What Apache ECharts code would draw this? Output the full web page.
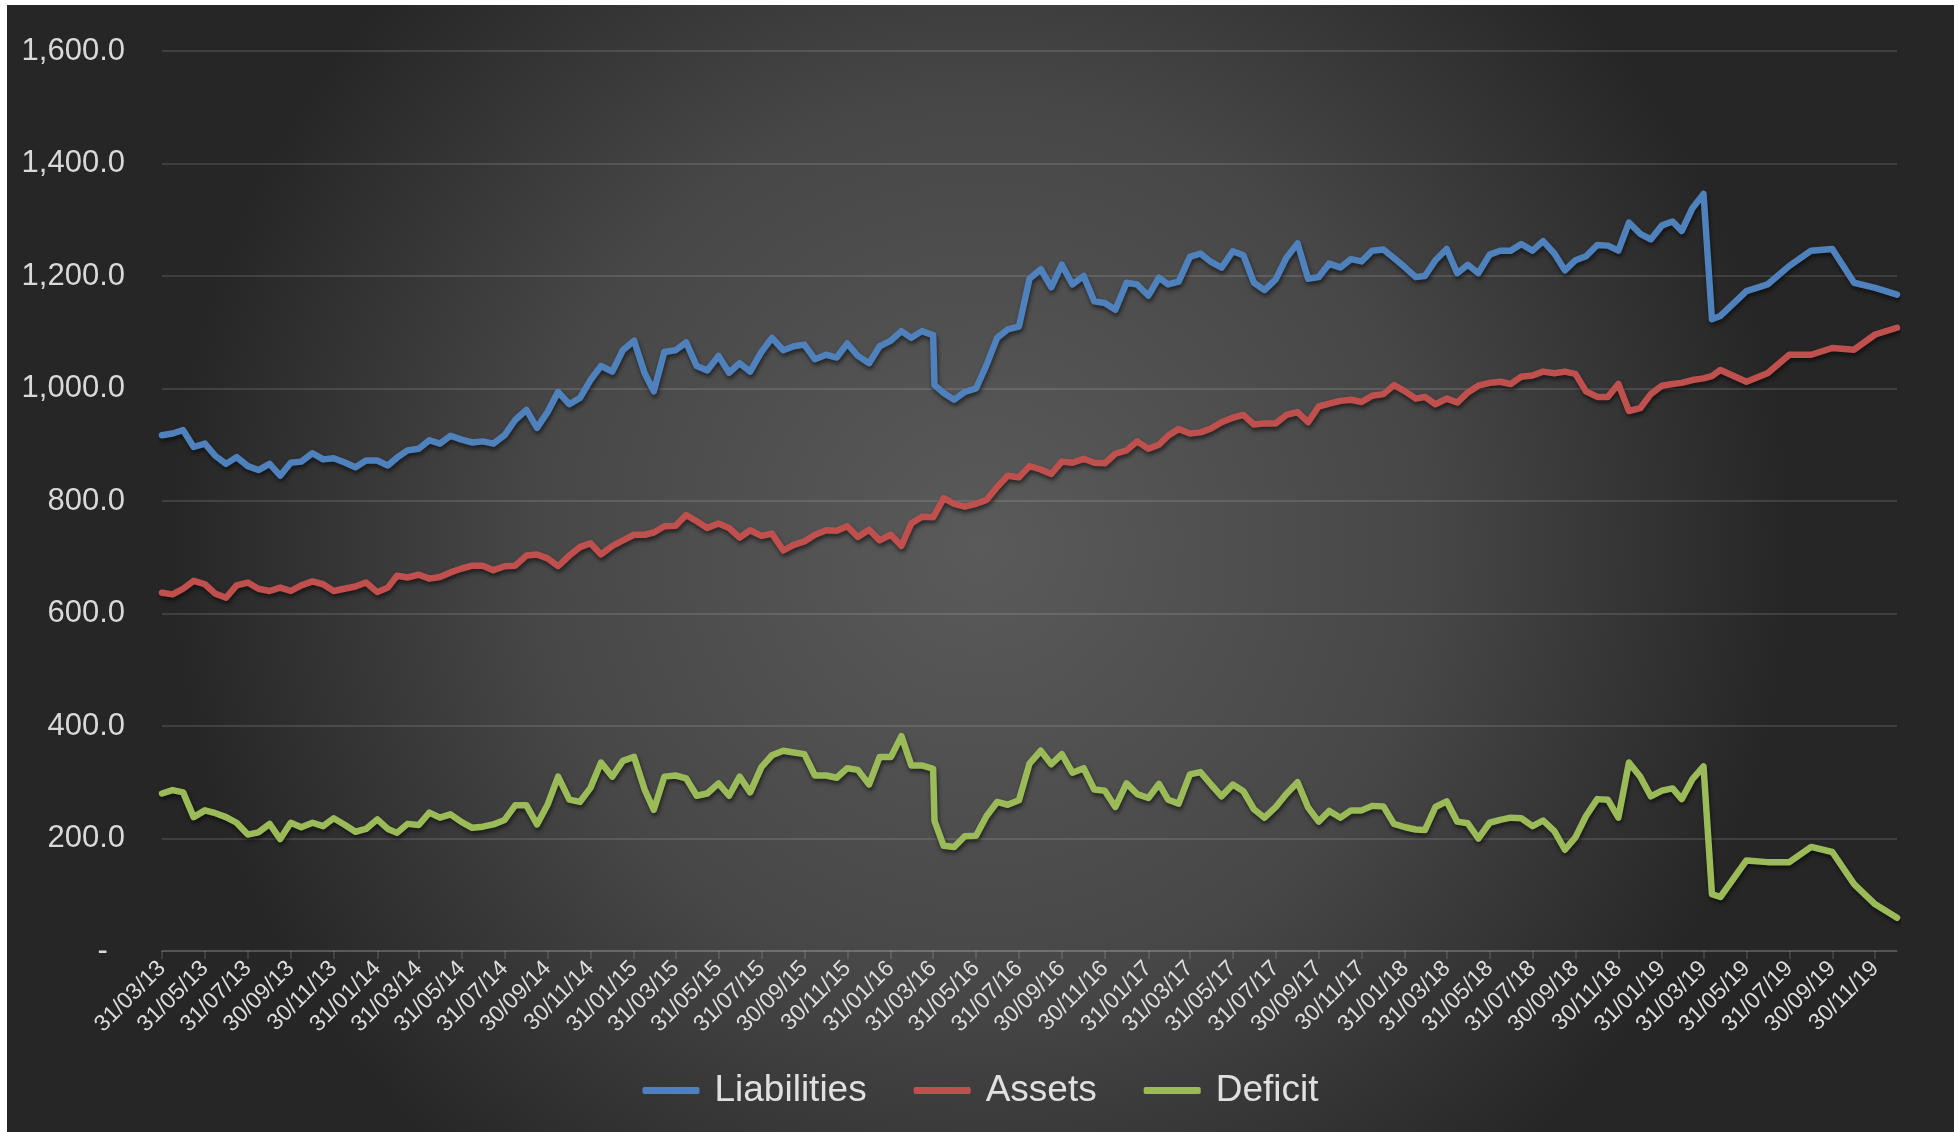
<!DOCTYPE html>
<html><head><meta charset="utf-8">
<script src="https://cdn.jsdelivr.net/npm/echarts@6/dist/echarts.min.js"></script>
<style>
html,body{margin:0;padding:0;background:#ffffff;width:1959px;height:1132px;overflow:hidden}
#chart{position:absolute;left:7px;top:5px;width:1947px;height:1127px}
</style></head><body><div id="chart"></div>
<script>
const dates = [
 '2013-03-31','2013-04-15','2013-04-30','2013-05-15','2013-05-31','2013-06-15','2013-06-30','2013-07-15','2013-07-31','2013-08-15','2013-08-31','2013-09-15','2013-09-30','2013-10-15','2013-10-31','2013-11-15','2013-11-30','2013-12-15','2013-12-31',
 '2014-01-15','2014-01-31','2014-02-15','2014-02-28','2014-03-15','2014-03-31','2014-04-15','2014-04-30','2014-05-15','2014-05-31','2014-06-15','2014-06-30','2014-07-15','2014-07-31','2014-08-15','2014-08-31','2014-09-15','2014-09-30','2014-10-15','2014-10-31','2014-11-15','2014-11-30','2014-12-15','2014-12-31',
 '2015-01-15','2015-01-31','2015-02-15','2015-02-28','2015-03-15','2015-03-31','2015-04-15','2015-04-30','2015-05-15','2015-05-31','2015-06-15','2015-06-30','2015-07-15','2015-07-31','2015-08-15','2015-08-31','2015-09-15','2015-09-30','2015-10-15','2015-10-31','2015-11-15','2015-11-30','2015-12-15','2015-12-31',
 '2016-01-15','2016-01-31','2016-02-15','2016-02-29','2016-03-15','2016-03-31','2016-04-02','2016-04-15','2016-04-30','2016-05-15','2016-05-31','2016-06-15','2016-06-30','2016-07-15','2016-07-31','2016-08-15','2016-08-31','2016-09-15','2016-09-30','2016-10-15','2016-10-31','2016-11-15','2016-11-30','2016-12-15','2016-12-31',
 '2017-01-15','2017-01-31','2017-02-15','2017-02-28','2017-03-15','2017-03-31','2017-04-15','2017-04-30','2017-05-15','2017-05-31','2017-06-15','2017-06-30','2017-07-15','2017-07-31','2017-08-15','2017-08-31','2017-09-15','2017-09-30','2017-10-15','2017-10-31','2017-11-15','2017-11-30','2017-12-15','2017-12-31',
 '2018-01-15','2018-01-31','2018-02-15','2018-02-28','2018-03-15','2018-03-31','2018-04-15','2018-04-30','2018-05-15','2018-05-31','2018-06-15','2018-06-30','2018-07-15','2018-07-31','2018-08-15','2018-08-31','2018-09-15','2018-09-30','2018-10-15','2018-10-31','2018-11-15','2018-11-30','2018-12-15','2018-12-31',
 '2019-01-15','2019-01-31','2019-02-15','2019-02-28','2019-03-15','2019-03-31','2019-04-12','2019-04-24','2019-05-31','2019-06-30','2019-07-31','2019-08-31','2019-09-30','2019-10-31','2019-11-30','2019-12-31'
];
const liabilities = [
 917,920,926,896,902,880,866,878,862,855,866,845,868,870,885,874,876,869,860,
 872,872,863,877,890,893,908,902,916,909,904,906,902,917,944,962,930,958,994,972,983,1015,1040,1030,
 1068,1085,1027,995,1065,1068,1082,1040,1032,1058,1028,1045,1030,1065,1090,1068,1075,1078,1052,1060,1055,1080,1058,1045,
 1075,1085,1102,1090,1102,1095,1006,992,980,994,1000,1042,1090,1105,1110,1195,1212,1180,1220,1185,1200,1155,1152,1140,1188,
 1185,1165,1197,1185,1190,1234,1240,1225,1215,1244,1237,1188,1175,1194,1232,1258,1195,1198,1222,1215,1230,1226,1245,1247,
 1232,1215,1198,1200,1228,1248,1205,1220,1205,1238,1245,1245,1257,1245,1262,1240,1210,1228,1235,1255,1254,1245,1295,1275,
 1265,1290,1297,1280,1320,1346,1123,1129,1173,1185,1218,1245,1248,1188,1179,1167
];
const assets = [
 637,634,644,658,652,635,628,650,655,644,640,646,640,650,657,652,640,644,648,
 655,638,646,667,664,669,662,665,673,680,685,685,677,684,685,703,705,698,684,703,718,725,705,720,
 730,740,740,744,755,756,775,764,752,760,752,735,748,738,742,712,722,728,740,748,747,755,736,749,
 730,740,720,760,772,771,775,805,795,790,795,802,825,845,842,862,856,848,870,868,875,868,867,884,890,
 906,893,900,916,928,920,922,929,940,948,953,936,938,938,953,958,940,968,973,978,980,976,987,990,
 1006,995,982,985,972,982,975,993,1005,1010,1012,1008,1021,1023,1030,1027,1030,1026,995,985,985,1008,960,965,
 990,1005,1008,1010,1015,1018,1022,1033,1012,1027,1060,1060,1072,1069,1096,1108
];
const deficit = [
 280,286,282,238,250,245,238,228,207,211,226,199,228,220,228,222,236,225,212,
 217,234,217,210,226,224,246,237,243,229,219,221,225,233,259,259,225,260,310,269,265,290,335,310,
 338,345,287,251,310,312,307,276,280,298,276,310,282,327,348,356,353,350,312,312,308,325,322,296,
 345,345,382,330,330,324,231,187,185,204,205,240,265,260,268,333,356,332,350,317,325,287,285,256,298,
 279,272,297,269,262,314,318,296,275,296,284,252,237,256,279,300,255,230,249,237,250,250,258,257,
 226,220,216,215,256,266,230,227,200,228,233,237,236,222,232,213,180,202,240,270,269,237,335,310,
 275,285,289,270,305,328,101,96,161,158,158,185,176,119,83,59
];
const tickLabels = [
 '31/03/13','31/05/13','31/07/13','30/09/13','30/11/13',
 '31/01/14','31/03/14','31/05/14','31/07/14','30/09/14','30/11/14',
 '31/01/15','31/03/15','31/05/15','31/07/15','30/09/15','30/11/15',
 '31/01/16','31/03/16','31/05/16','31/07/16','30/09/16','30/11/16',
 '31/01/17','31/03/17','31/05/17','31/07/17','30/09/17','30/11/17',
 '31/01/18','31/03/18','31/05/18','31/07/18','30/09/18','30/11/18',
 '31/01/19','31/03/19','31/05/19','31/07/19','30/09/19','30/11/19'
];
const seriesNames = ['Liabilities','Assets','Deficit'];
const seriesColors = ['#4f81bd','#c0504d','#9bbb59'];

function parseLabel(s){ const p = s.split('/').map(Number); return new Date(2000+p[2], p[1]-1, p[0]).getTime(); }
function parseIso(s){ const p = s.split('-').map(Number); return new Date(p[0], p[1]-1, p[2]).getTime(); }
const tickTs = tickLabels.map(parseLabel);
const labelByTs = {}; tickTs.forEach((t,i)=>{ labelByTs[t] = tickLabels[i]; });
function pad(n){ return (n<10?'0':'')+n; }
function fmtDate(v){ if (labelByTs[v]) return labelByTs[v]; const d = new Date(v); return pad(d.getDate())+'/'+pad(d.getMonth()+1)+'/'+pad(d.getFullYear()%100); }

const xs = dates.map(parseIso);
const valueSets = [liabilities, assets, deficit];
const chart = echarts.init(document.getElementById('chart'), null, {renderer:'canvas'});
const font = 'Liberation Sans, Arial, Helvetica, sans-serif';
const gridColor = 'rgba(255,255,255,0.16)';
chart.setOption({
  animation:false,
  backgroundColor:{type:'radial', x:0.5, y:0.48, r:0.72,
    colorStops:[{offset:0,color:'#5a5a5a'},{offset:0.55,color:'#474747'},{offset:1,color:'#262626'}]},
  grid:{left:155, right:57, top:46, bottom:181, containLabel:false},
  legend:{
    data:seriesNames, bottom:18, left:'center', icon:'roundRect', itemWidth:57, itemHeight:7, itemGap:47,
    textStyle:{color:'#e0e0e0', fontSize:37, fontFamily:font, padding:[0,0,0,10]}
  },
  xAxis:{
    type:'value', min:parseLabel('31/03/13'), max:parseLabel('31/12/19'),
    axisLine:{show:true, lineStyle:{color:gridColor, width:1.5}},
    axisTick:{show:true, customValues:tickTs, length:8, lineStyle:{color:gridColor, width:1.5}},
    axisLabel:{customValues:tickTs, rotate:45, formatter:fmtDate, color:'#dcdcdc', fontSize:23, fontFamily:font, margin:14, hideOverlap:false},
    splitLine:{show:false}
  },
  yAxis:{
    type:'value', min:0, max:1600, interval:200,
    axisLine:{show:false}, axisTick:{show:false},
    axisLabel:{color:'#d9d9d9', fontSize:31, fontFamily:font, margin:37,
      formatter:v => v===0 ? '-  ' : v.toLocaleString('en-US',{minimumFractionDigits:1, maximumFractionDigits:1})},
    splitLine:{show:true, lineStyle:{color:gridColor, width:1.5}}
  },
  series: seriesNames.map((name,k)=>({
    name, type:'line', showSymbol:false, symbol:'none',
    data: xs.map((x,i)=>[x, valueSets[k][i]]),
    itemStyle:{color:seriesColors[k]},
    lineStyle:{color:seriesColors[k], width:6.5, cap:'round', join:'round',
      shadowColor:'rgba(0,0,0,0.55)', shadowBlur:4, shadowOffsetX:1, shadowOffsetY:3}
  }))
});
</script></body></html>
